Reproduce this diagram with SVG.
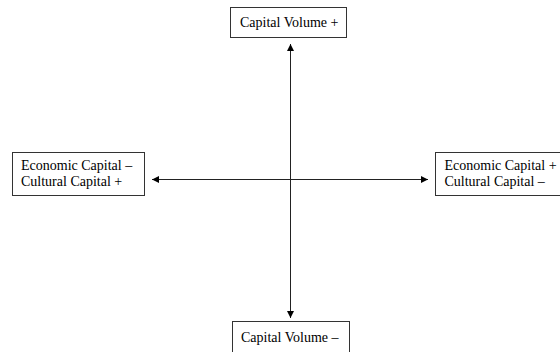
<svg xmlns="http://www.w3.org/2000/svg" width="560" height="352" viewBox="0 0 560 352">
<style>
.box{fill:#fff;stroke:#333;stroke-width:1}
.t{font-family:"Liberation Serif",serif;font-size:14px;fill:#000}
.ln{stroke:#222;stroke-width:1;fill:none}
</style>
<defs>
<marker id="ah" viewBox="0 0 10 10" refX="10" refY="5" markerWidth="7" markerHeight="7" markerUnits="userSpaceOnUse" orient="auto-start-reverse">
<path d="M0,0 L10,5 L0,10 z" fill="#000"/>
</marker>
</defs>
<rect width="560" height="352" fill="#fff"/>
<g id="connectors">
<line class="ln" x1="290.5" y1="44" x2="290.5" y2="318" marker-start="url(#ah)" marker-end="url(#ah)"/>
<line class="ln" x1="152" y1="179.5" x2="428" y2="179.5" marker-start="url(#ah)" marker-end="url(#ah)"/>
</g>
<g id="top">
<rect class="box" x="230.5" y="7.5" width="116" height="30"/>
<text class="t" x="240" y="27">Capital Volume +</text>
</g>
<g id="left">
<rect class="box" x="12.5" y="152.5" width="132" height="43"/>
<text class="t" x="21" y="170">Economic Capital –</text>
<text class="t" x="21" y="186">Cultural Capital +</text>
</g>
<g id="right">
<rect class="box" x="435.5" y="152.5" width="130" height="43"/>
<text class="t" x="444.5" y="170">Economic Capital +</text>
<text class="t" x="444.5" y="186">Cultural Capital –</text>
</g>
<g id="bottom">
<rect class="box" x="232.5" y="321.5" width="117" height="40"/>
<text class="t" x="241" y="342">Capital Volume –</text>
</g>
</svg>
